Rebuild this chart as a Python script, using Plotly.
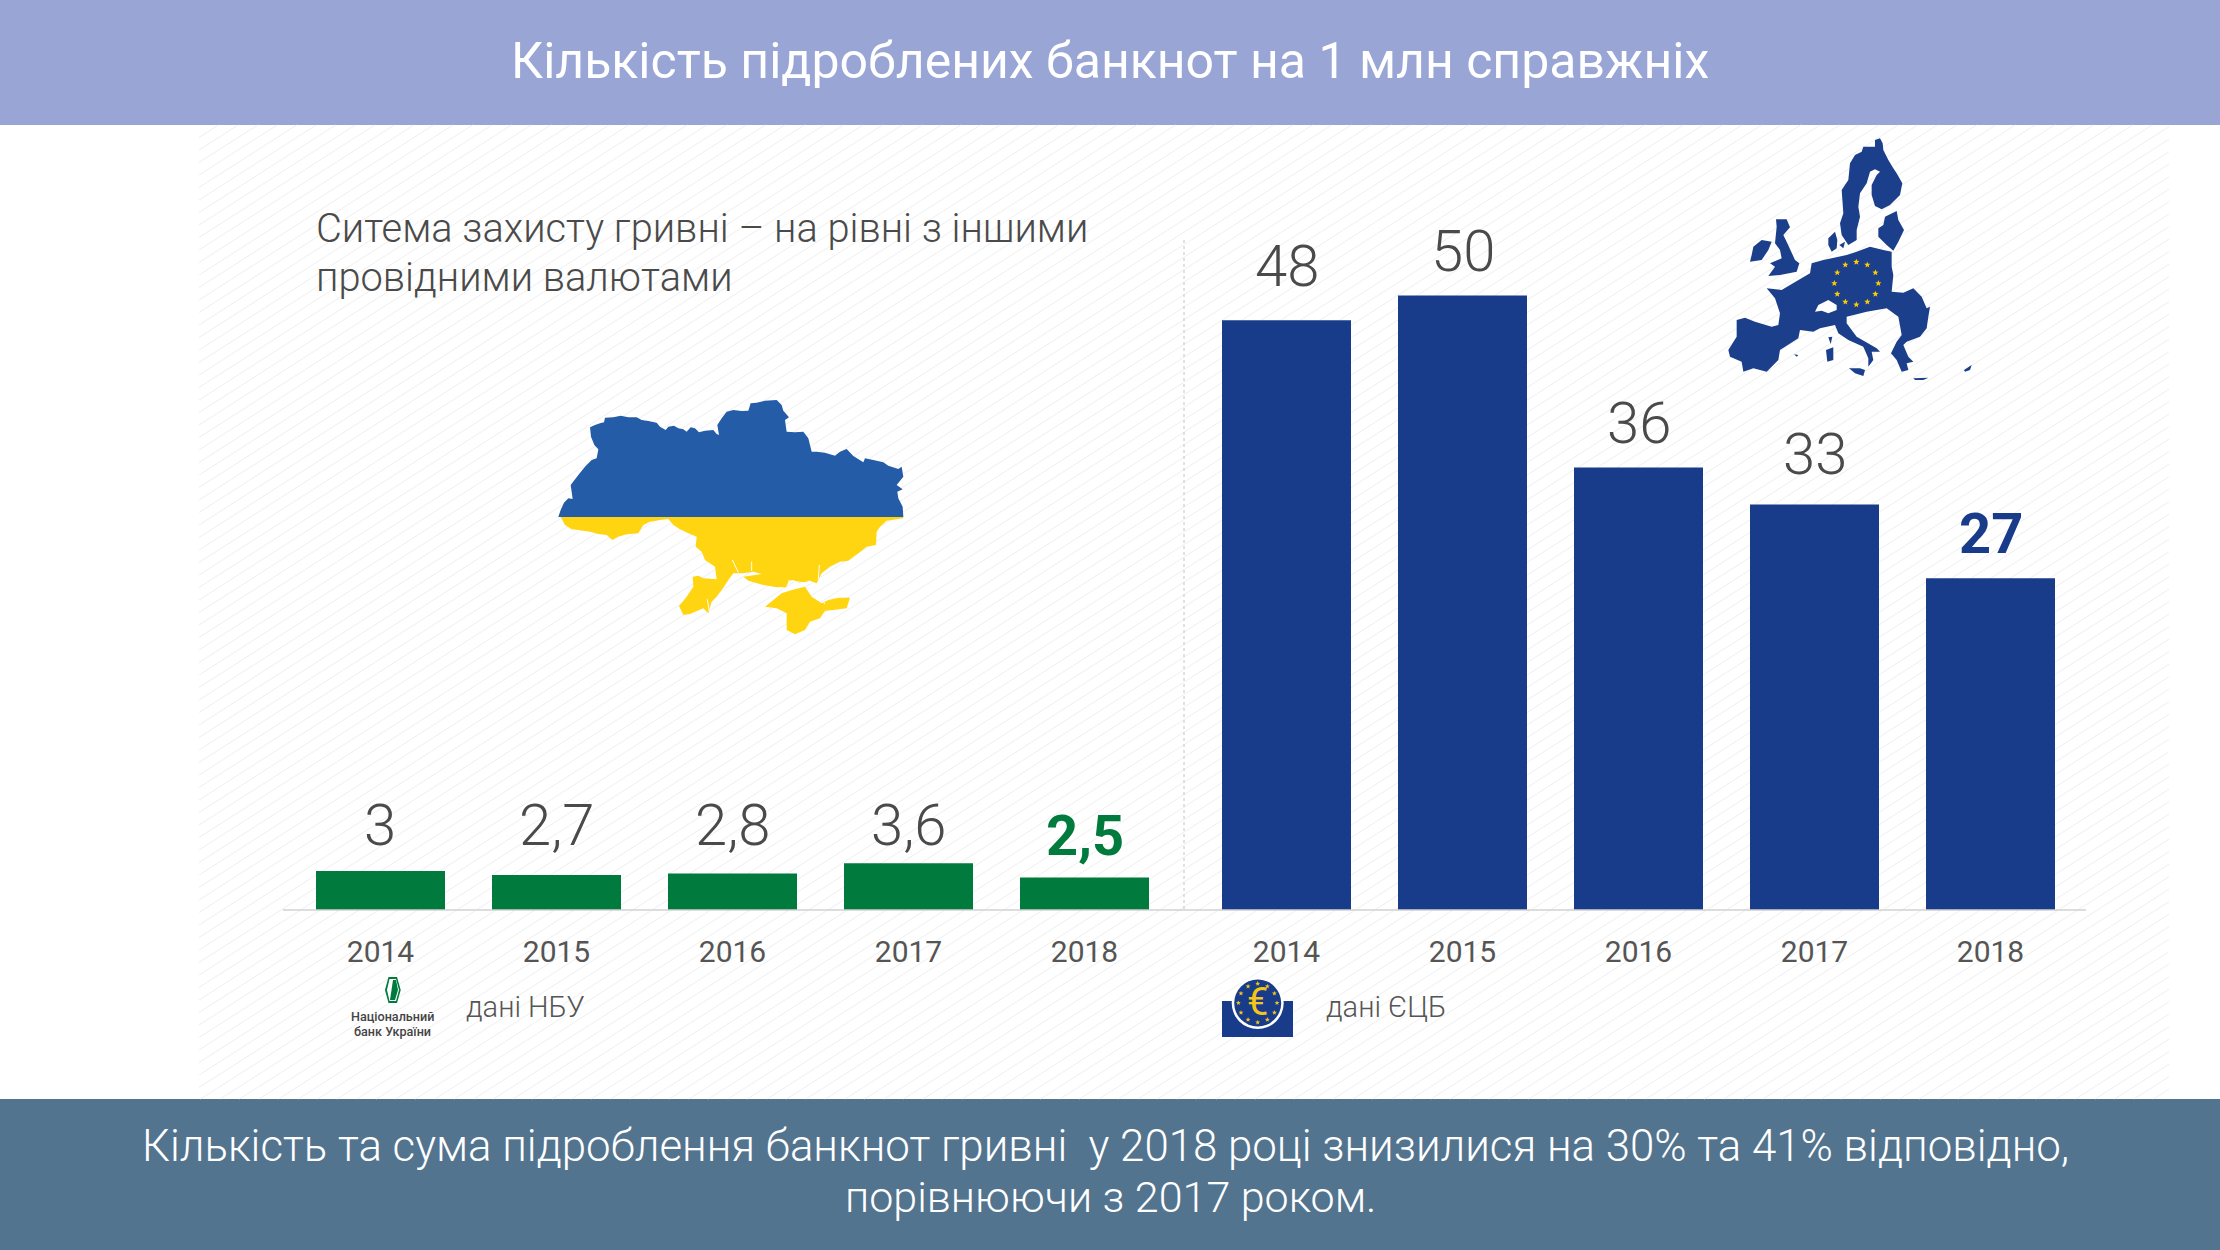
import math
import plotly.graph_objects as go

W, H = 2220, 1250

# ---- data ----
years = ["2014", "2015", "2016", "2017", "2018"]
ua_values = [3, 2.7, 2.8, 3.6, 2.5]
ecb_values = [48, 50, 36, 33, 27]
title_text = "Кількість підроблених банкнот на 1 млн справжніх"
subtitle_lines = ["Ситема захисту гривні – на рівні з іншими", "провідними валютами"]
footer_lines = ["Кількість та сума підроблення банкнот гривні  у 2018 році знизилися на 30% та 41% відповідно,",
                "порівнюючи з 2017 роком."]

# ---- styles ----
GREEN, NAVY = "#007a3d", "#183b8a"
GREY = "#4a4a4a"
UA_BLUE, UA_YELLOW = "#245ca8", "#ffd512"
BASE_PX = 910


def X(px):
    return px / W


def Y(py):
    return 1 - py / H


def path_of(points, ox=0, oy=0, k=1.0, close=True):
    parts = [f"{X(ox + x * k):.5f},{Y(oy + y * k):.5f}" for x, y in points]
    return "M" + "L".join(parts) + ("Z" if close else "")


def star(cx, cy, r):
    pts = []
    for i in range(10):
        a = -math.pi / 2 + i * math.pi / 5
        rr = r if i % 2 == 0 else r * 0.42
        pts.append((cx + rr * math.cos(a), cy + rr * math.sin(a)))
    return pts


shapes = []


def poly(points, color, ox=0, oy=0, k=1.0):
    shapes.append(dict(type="path", xref="paper", yref="paper", path=path_of(points, ox, oy, k),
                       fillcolor=color, line=dict(width=0), layer="above"))


def rect(x0, y0, x1, y1, color, layer="below"):
    shapes.append(dict(type="rect", xref="paper", yref="paper", x0=X(x0), x1=X(x1), y0=Y(y0), y1=Y(y1),
                       fillcolor=color, line=dict(width=0), layer=layer))


def circle(cx, cy, r, color):
    shapes.append(dict(type="circle", xref="paper", yref="paper", x0=X(cx - r), x1=X(cx + r), y0=Y(cy + r),
                       y1=Y(cy - r), fillcolor=color, line=dict(width=0), layer="above"))


# background bands
rect(0, 0, W, 125, "#98a5d5")
rect(0, 1099, W, H, "#53748f")

# hatch
hx0, hx1, hy0, hy1 = 199, 2169, 125, 1099
slope, step = 0.64, 12.5
segs = []
c = hy0
while c < hy1 + slope * (hx1 - hx0):
    xa, ya = hx0, c
    if ya > hy1:
        xa = hx0 + (c - hy1) / slope
        ya = hy1
    xb = hx1
    yb = c - slope * (hx1 - hx0)
    if yb < hy0:
        xb = hx0 + (c - hy0) / slope
        yb = hy0
    if xa < xb:
        segs.append(f"M{X(xa):.5f},{Y(ya):.5f}L{X(xb):.5f},{Y(yb):.5f}")
    c += step
shapes.append(dict(type="path", xref="paper", yref="paper", path="".join(segs),
                   line=dict(color="#efefef", width=1), layer="below"))

# axis line & divider
shapes.append(dict(type="line", xref="paper", yref="paper", x0=X(283), x1=X(2086), y0=Y(BASE_PX), y1=Y(BASE_PX),
                   line=dict(color="#d2d2d2", width=1.5), layer="above"))
shapes.append(dict(type="line", xref="paper", yref="paper", x0=X(1184), x1=X(1184), y0=Y(240), y1=Y(BASE_PX),
                   line=dict(color="#c4c4c4", width=1, dash="dot"), layer="below"))

# Ukraine map (traced outline)
ua_north = [(175,441),(182,420),(192,398),(205,385),(218,387),(212,345),(235,315),(255,290),(275,270),(290,265),(295,238),(283,225),(273,200),(270,172),(285,165),(300,160),(312,157),(315,143),(340,142),(362,137),(385,142),(410,142),(425,150),(445,153),(470,158),(480,170),(497,180),(505,170),(522,167),(535,175),(550,178),(560,185),(572,172),(585,175),(597,187),(615,182),(640,180),(650,192),(657,195),(652,165),(665,145),(680,125),(700,120),(725,123),(745,122),(752,100),(770,98),(795,92),(830,90),(845,105),(850,122),(867,142),(855,150),(860,185),(885,187),(910,185),(925,205),(935,245),(950,245),(975,248),(1005,257),(1020,245),(1040,237),(1060,258),(1090,277),(1095,265),(1120,270),(1150,277),(1165,287),(1195,297),(1205,290),(1210,320),(1190,345),(1208,358),(1192,365),(1195,385),(1208,410),(1210,441)]
ua_south = [(182,441),(1210,441),(1210,445),(1160,452),(1140,470),(1130,485),(1128,525),(1100,530),(1075,550),(1045,572),(1020,575),(990,590),(965,610),(950,640),(930,632),(900,640),(880,630),(865,635),(858,652),(830,652),(790,645),(745,632),(730,620),(785,612),(760,605),(730,610),(700,610),(685,630),(672,650),(650,680),(635,695),(625,730),(610,715),(570,732),(550,735),(537,708),(560,680),(580,650),(578,620),(595,617),(610,625),(650,628),(645,590),(615,570),(605,545),(587,530),(590,500),(565,490),(540,478),(520,465),(505,447),(480,450),(450,455),(430,465),(415,490),(380,493),(355,500),(337,510),(320,495),(295,492),(270,485),(235,480),(215,478),(195,465)]
crimea = [(795,710),(820,690),(845,670),(875,660),(915,650),(935,680),(965,700),(985,690),(1015,683),(1050,683),(1040,715),(1000,720),(975,722),(960,745),(930,755),(915,780),(885,793),(860,780),(860,730),(830,715)]
ox, oy = 500, 370
for p, col in [(ua_south, UA_YELLOW), (crimea, UA_YELLOW), (ua_north, UA_BLUE)]:
    poly(p, col, ox, oy, 1 / 3)
# estuaries and Sivash slivers
for line_pts in [[(697,570),(715,607)], [(755,575),(755,603)], [(958,585),(955,628)], [(925,632),(975,702)],
                 [(865,632),(925,640)], [(622,688),(628,725)]]:
    shapes.append(dict(type="path", xref="paper", yref="paper", path=path_of(line_pts, ox, oy, 1 / 3, close=False),
                       line=dict(color="#ffffff", width=1), layer="above"))

# EU map (traced outline)
eu_parts = [
    [(525,60),(540,55),(548,70),(550,90),(565,120),(580,145),(590,160),(607,190),(600,225),(570,255),(545,268),(525,258),(515,225),(515,195),(530,165),(540,155),(525,148),(510,155),(500,190),(480,220),(475,260),(480,290),(470,330),(470,360),(445,375),(425,345),(420,310),(430,280),(425,210),(445,180),(450,130),(465,105),(485,95),(490,80),(525,80)],
    [(555,290),(590,273),(595,300),(612,330),(595,365),(580,392),(560,375),(535,350),(535,325),(550,315)],
    [(385,355),(405,335),(412,360),(410,385),(395,395),(385,375)],
    [(395,415),(440,405),(470,395),(510,380),(550,390),(575,395),(575,440),(580,465),(575,515),(610,518),(640,505),(665,530),(680,565),(690,560),(685,590),(680,625),(660,650),(620,665),(610,675),(625,710),(640,725),(620,730),(625,750),(605,755),(590,720),(573,700),(590,665),(605,645),(595,590),(560,565),(500,575),(440,590),(440,610),(470,650),(530,685),(540,695),(515,695),(520,720),(505,740),(505,715),(490,680),(445,660),(415,640),(405,615),(360,625),(340,635),(300,630),(295,655),(240,690),(235,720),(200,755),(160,745),(130,755),(125,725),(90,710),(85,690),(110,650),(110,600),(135,593),(165,605),(215,620),(235,615),(240,580),(225,535),(200,505),(245,510),(270,495),(330,460),(335,430),(370,420)],
    [(228,298),(260,298),(270,322),(250,345),(262,370),(285,420),(298,430),(290,455),(240,465),(205,468),(225,440),(210,430),(245,415),(240,390),(225,370),(230,320)],
    [(160,380),(185,360),(215,365),(205,390),(185,420),(150,425),(155,405)],
    [(447,745),(480,745),(495,750),(490,768),(465,760)],
    [(378,690),(400,682),(400,720),(382,725)],
    [(385,652),(397,650),(392,672)],
    [(792,750),(815,735),(810,750),(795,755)],
    [(640,775),(685,773),(670,780),(645,780)],
    [(282,703),(295,705),(290,710)],
    [(418,375),(435,365),(430,385)],
]
for p in eu_parts:
    poly(p, "#1b3f8b", 1700, 120, 1 / 3)
poly([(345,575),(355,555),(385,540),(410,555),(410,570),(385,580),(365,572)], "#ffffff", 1700, 120, 1 / 3)
for i in range(12):
    a = i * math.pi / 6
    poly(star(469 + 66 * math.sin(a), 490 - 64 * math.cos(a), 10), "#ffcc00", 1700, 120, 1 / 3)

# ECB logo
rect(1222, 1001, 1293, 1037, NAVY, layer="above")
circle(1257.7, 1003, 26, "#ffffff")
circle(1257.7, 1003, 23.5, NAVY)
for i in range(12):
    a = i * math.pi / 6
    poly(star(1257.7 + 19.3 * math.sin(a), 1003 - 19.3 * math.cos(a), 2.6), "#f5c518")

# NBU logo
poly([(388.5,977),(397,977),(400.7,990),(397,1003),(388.5,1003),(385,990)], GREEN)
poly([(389.5,979),(396,979),(399,990),(396,1001),(389.5,1001),(387,990)], "#ffffff")
poly([(393,980),(396,980),(398,990),(395,1000),(390,1000)], GREEN)


def note(px, py, text, size, color="#ffffff", weight=300, anchor="center"):
    return dict(xref="paper", yref="paper", x=X(px), y=Y(py), text=text, showarrow=False, xanchor=anchor,
                yanchor="middle", font=dict(family="Roboto", size=size, color=color, weight=weight))


annotations = [
    note(1110, 61, title_text, 50, weight=400),
    note(314, 228, subtitle_lines[0], 39.8, GREY, anchor="left"),
    note(314, 277, subtitle_lines[1], 39.8, GREY, anchor="left"),
    note(1105, 1146, footer_lines[0], 43.8),
    note(1110, 1197, footer_lines[1], 43),
    note(464, 1007, "дані НБУ", 29, "#555555", anchor="left"),
    note(1324, 1007, "дані ЄЦБ", 29, "#555555", anchor="left"),
    note(392.5, 1016, "Національний", 12.6, "#444444", weight=500),
    note(392.5, 1031, "банк України", 12.6, "#444444", weight=500),
    note(1257.7, 1002, "€", 38, "#f5c518", weight=400),
]

# value labels (category axes take the position index)
lifts = {"x": [22, 26, 24.6, 14.2, 19], "x2": [30.5, 21, 20.8, 26, 21.7]}
for vals, xr, yr, col in [(ua_values, "x", "y", GREEN), (ecb_values, "x2", "y2", NAVY)]:
    for i, v in enumerate(vals):
        last = i == len(vals) - 1
        annotations.append(dict(x=i, y=v, xref=xr, yref=yr, text=f"{v}".replace(".", ","), showarrow=False,
                                yanchor="bottom", yshift=lifts[xr][i] - 12,
                                font=dict(family="Roboto", size=56 if last else 58, color=col if last else GREY,
                                          weight=700 if last else 300)))

fig = go.Figure()
fig.add_trace(go.Bar(x=years, y=ua_values, marker=dict(color=GREEN, line=dict(width=0)), xaxis="x", yaxis="y",
                     hoverinfo="x+y"))
fig.add_trace(go.Bar(x=years, y=ecb_values, marker=dict(color=NAVY, line=dict(width=0)), xaxis="x2", yaxis="y2",
                     hoverinfo="x+y"))

dom_y = [Y(BASE_PX), 1]
xaxis_style = dict(type="category", range=[-0.5, 4.5], showgrid=False, zeroline=False, showline=False, ticks="",
                   ticklabelstandoff=21, automargin=False, tickfont=dict(family="Roboto", size=30, color="#555555"))
fig.update_layout(
    width=W, height=H, autosize=False, margin=dict(l=0, r=0, t=0, b=0),
    paper_bgcolor="#ffffff", plot_bgcolor="rgba(0,0,0,0)", showlegend=False, bargap=47 / 176,
    xaxis=dict(domain=[X(292.5), X(1172.5)], anchor="y", **xaxis_style),
    xaxis2=dict(domain=[X(1198.5), X(2078.5)], anchor="y2", **xaxis_style),
    yaxis=dict(domain=dom_y, range=[0, 70], visible=False),
    yaxis2=dict(domain=dom_y, range=[0, 74.05], visible=False),
    shapes=shapes, annotations=annotations,
)
fig.write_html("out.html", post_script="document.body.style.margin='0';",
               config={"displayModeBar": False})
